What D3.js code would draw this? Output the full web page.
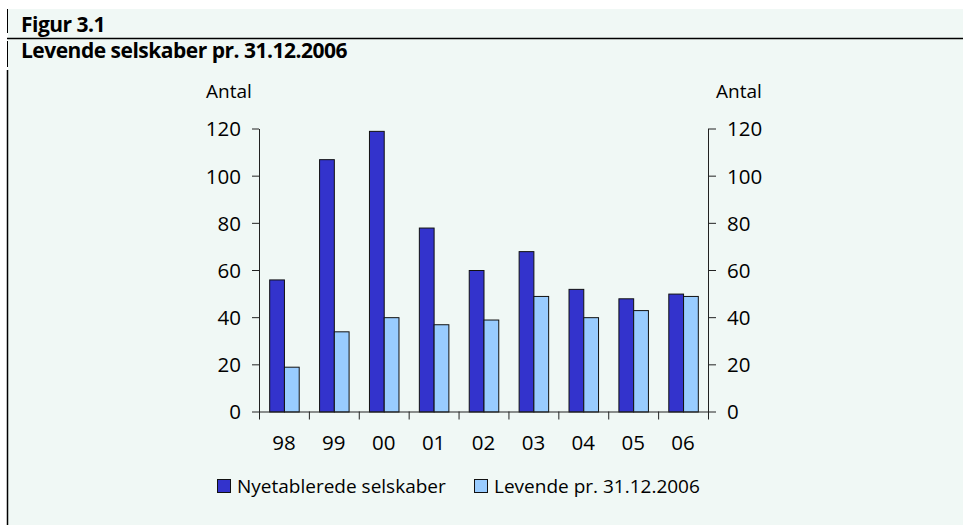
<!DOCTYPE html>
<html>
<head>
<meta charset="utf-8">
<title>Figur 3.1</title>
<script src="https://d3js.org/d3.v7.min.js"></script>
<style>
body {
	margin: 0;
	background-color: white;
}
svg {
	display: block;
}
.tick text, .lbl {
	font-family: "Open Sans", sans-serif;
	font-size: 19px;
	fill: #000;
}
.tick text {
	font-size: 20.5px;
}
.title {
	font-family: "Open Sans", sans-serif;
	font-weight: bold;
	font-size: 21px;
	letter-spacing: -0.5px;
	fill: #000;
}
.axis path, .axis line {
	stroke: #222;
	stroke-width: 1;
}
</style>
</head>
<body>
<div id="chart"></div>
<script>
/* globals d3 */
const years = ["98", "99", "00", "01", "02", "03", "04", "05", "06"];
const seriesNames = ["Nyetablerede selskaber", "Levende pr. 31.12.2006"];
const nyetablerede = [56, 107, 119, 78, 60, 68, 52, 48, 50];
const levende = [19, 34, 40, 37, 39, 49, 40, 43, 49];
const yTicks = [0, 20, 40, 60, 80, 100, 120];
const colors = ["#3333cc", "#99ccff"];

(function() {
"use strict";
const W = 963, H = 525;
const svg = d3.select("#chart").append("svg")
	.attr("width", W)
	.attr("height", H);

// background panel and frame lines
svg.append("rect")
	.attr("x", 8).attr("y", 9)
	.attr("width", W - 8).attr("height", H - 9)
	.attr("fill", "#f0f8f5");
svg.append("line")
	.attr("x1", 7.5).attr("x2", 7.5).attr("y1", 9).attr("y2", 33)
	.attr("stroke", "#000");
svg.append("line")
	.attr("x1", 7).attr("x2", W).attr("y1", 38.5).attr("y2", 38.5)
	.attr("stroke", "#000").attr("stroke-width", 1.5);
svg.append("line")
	.attr("x1", 7.5).attr("x2", 7.5).attr("y1", 41).attr("y2", 67)
	.attr("stroke", "#000");
svg.append("line")
	.attr("x1", 7.5).attr("x2", 7.5).attr("y1", 70).attr("y2", H)
	.attr("stroke", "#000").attr("stroke-width", 1.5);

svg.append("text").attr("class", "title")
	.attr("x", 21).attr("y", 32)
	.text("Figur 3.1");
svg.append("text").attr("class", "title")
	.attr("x", 21).attr("y", 58)
	.text("Levende selskaber pr. 31.12.2006");

// plot area
const left = 259, right = 708, top = 128.5, bottom = 411.5;

const x = d3.scaleBand().domain(years).range([left, right]);
const xIdx = d3.scaleLinear().domain([0, years.length]).range([left, right]);
const x1 = d3.scaleBand().domain(seriesNames).range([0, x.bandwidth()]).paddingOuter(0.69);
const y = d3.scaleLinear().domain([0, 120]).range([bottom, top]);

const data = years.map((yr, i) => ({year: yr, values: [nyetablerede[i], levende[i]]}));

const groups = svg.append("g")
	.selectAll("g")
	.data(data)
	.join("g")
		.attr("transform", d => "translate(" + x(d.year) + ",0)");
groups.selectAll("rect")
	.data(d => d.values.map((v, k) => ({name: seriesNames[k], value: v, k: k})))
	.join("rect")
		.attr("x", d => x1(d.name) + 0.5)
		.attr("y", d => y(d.value) + 0.5)
		.attr("width", x1.bandwidth())
		.attr("height", d => bottom - y(d.value))
		.attr("fill", d => colors[d.k])
		.attr("stroke", "#111")
		.attr("stroke-width", 1);

// axes
svg.append("g")
	.attr("class", "axis")
	.attr("transform", "translate(" + left + ",0)")
	.call(d3.axisLeft(y).tickValues(yTicks).tickSize(7).tickSizeOuter(0).tickPadding(11))
	.call(g => g.selectAll("text").attr("dy", "0.36em"));
svg.append("g")
	.attr("class", "axis")
	.attr("transform", "translate(" + right + ",0)")
	.call(d3.axisRight(y).tickValues(yTicks).tickSize(8).tickSizeOuter(0).tickPadding(11))
	.call(g => g.selectAll("text").attr("dy", "0.36em"));
svg.append("g")
	.attr("class", "axis")
	.attr("transform", "translate(0," + bottom + ")")
	.call(d3.axisBottom(xIdx).tickValues(d3.range(years.length + 1)).tickFormat("").tickSize(8).tickSizeOuter(0));
svg.append("g")
	.attr("class", "axis")
	.attr("transform", "translate(0," + bottom + ")")
	.call(d3.axisBottom(x).tickSize(0).tickPadding(24))
	.call(g => g.select(".domain").remove());

svg.append("text").attr("class", "lbl")
	.attr("x", 206).attr("y", 98).text("Antal");
svg.append("text").attr("class", "lbl")
	.attr("x", 716).attr("y", 98).text("Antal");

// legend
const legendX = [217.5, 474.5];
const legend = svg.append("g")
	.selectAll("g")
	.data(seriesNames)
	.join("g")
		.attr("transform", (d, i) => "translate(" + legendX[i] + ",479.5)");
legend.append("rect")
	.attr("width", 13).attr("height", 13)
	.attr("fill", (d, i) => colors[i])
	.attr("stroke", "#111");
legend.append("text").attr("class", "lbl")
	.attr("x", 19.5).attr("y", 13.5)
	.text(d => d);
})();
</script>
</body>
</html>
